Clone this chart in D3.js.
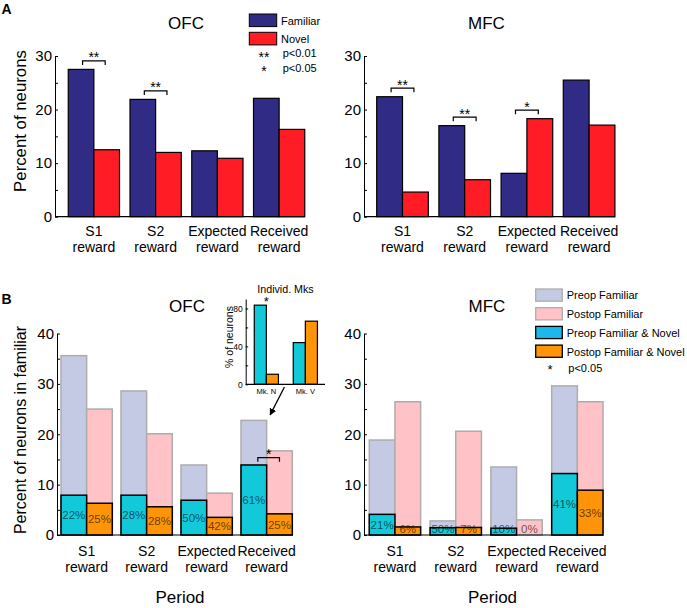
<!DOCTYPE html>
<html><head><meta charset="utf-8">
<script src="https://cdn.jsdelivr.net/npm/d3@7"></script>
<style>body{margin:0;background:#fff} svg{display:block} text{font-family:Arial,"Liberation Sans",Helvetica,sans-serif;fill:#000}</style>
</head><body><svg id="c" width="687" height="608"></svg>
<script>
// ---------- DATA ----------
const categories = ["S1|reward", "S2|reward", "Expected|reward", "Received|reward"];
// Panel A
const ofcFamiliar = [27.5, 21.9, 12.3, 22.1];
const ofcNovel    = [12.5, 12.0, 10.9, 16.3];
const mfcFamiliar = [22.4, 17.0, 8.1, 25.5];
const mfcNovel    = [4.6, 6.9, 18.3, 17.1];
const ofcSigA = ["**", "**", "", ""];
const mfcSigA = ["**", "**", "*", ""];
const yTicksA = [0, 10, 20, 30];
const yMinorA = [5, 15, 25];
// Panel B
const ofcPreopFam  = [35.6, 28.6, 13.9, 22.75];
const ofcPostopFam = [25.0, 20.1, 8.3, 16.7];
const ofcPreopFN   = [7.9, 7.9, 6.9, 13.9];
const ofcPostopFN  = [6.3, 5.6, 3.5, 4.2];
const ofcPreopPct  = ["22%", "28%", "50%", "61%"];
const ofcPostopPct = ["25%", "28%", "42%", "25%"];
const ofcSigB = ["", "", "", "*"];
const mfcPreopFam  = [18.85, 2.8, 13.5, 29.6];
const mfcPostopFam = [26.45, 20.6, 3.0, 26.45];
const mfcPreopFN   = [4.1, 1.45, 1.35, 12.2];
const mfcPostopFN  = [1.6, 1.5, 0, 8.9];
const mfcPreopPct  = ["21%", "50%", "10%", "41%"];
const mfcPostopPct = ["6%", "7%", "0%", "33%"];
const mfcSigB = ["", "", "", ""];
const yTicksB = [0, 10, 20, 30, 40];
const yMinorB = [5, 15, 25, 35];
// Inset (individual monkeys)
const insetMonkeys = ["Mk. N", "Mk. V"];
const insetPreop  = [83.5, 44];
const insetPostop = [10.6, 66.6];
const insetSig = ["*", ""];
const yTicksInset = [0, 40, 80];
const yMinorInset = [20, 60];

// ---------- STYLE ----------
const C = {
  fam: "#302c85", nov: "#ff1c24",
  preFam: "#c4cae4", postFam: "#ffc2c6",
  preFN: "#12c9da", postFN: "#ff9409",
  preFNlegend: "#1cb8ec", famStroke: "#adadad"
};
const svg = d3.select("#c");

function yAxis(g, y, ticks, minor, ax, fs, tlen) {
  const a = g.append("g").attr("transform", `translate(${ax},0)`)
    .call(d3.axisLeft(y).tickValues(ticks).tickSizeInner(-tlen).tickSizeOuter(0).tickPadding(3));
  a.selectAll("text").style("font-size", fs + "px").attr("fill", "#000");
  a.selectAll("path,line").attr("stroke", "#000").attr("stroke-width", 1);
  const m = g.append("g").attr("transform", `translate(${ax},0)`)
    .call(d3.axisLeft(y).tickValues(minor).tickSizeInner(-tlen).tickSizeOuter(0).tickFormat(""));
  m.select(".domain").remove();
  m.selectAll("line").attr("stroke", "#000");
}
function baseLine(g, x, y, ax) {
  const last = x.domain()[x.domain().length - 1];
  g.append("line").attr("x1", ax).attr("x2", x(last) + x.bandwidth())
    .attr("y1", y(0)).attr("y2", y(0)).attr("stroke", "#000").attr("stroke-width", 1.2);
}
function catLabels(g, x, y, dy1, fs) {
  const t = g.append("g").selectAll("text").data(categories).join("text")
    .attr("text-anchor", "middle").style("font-size", fs + "px")
    .attr("transform", d => `translate(${x(d) + x.bandwidth() / 2},${y(0) + dy1})`);
  t.append("tspan").attr("x", 0).attr("y", 0).text(d => d.split("|")[0]);
  t.append("tspan").attr("x", 0).attr("y", 16).text(d => d.split("|")[1]);
}
function bracket(g, x1, x2, yTop, label, fs) {
  g.append("path").attr("d", `M${x1},${yTop + 4}V${yTop}H${x2}V${yTop + 4}`)
    .attr("fill", "none").attr("stroke", "#000").attr("stroke-width", 1.2);
  g.append("text").attr("x", (x1 + x2) / 2).attr("y", yTop + 1.5)
    .attr("text-anchor", "middle").style("font-size", fs + "px").text(label);
}
function text(g, x, y, s, fs, anchor, extra) {
  const t = g.append("text").attr("x", x).attr("y", y).style("font-size", fs + "px")
    .attr("text-anchor", anchor || "start").text(s);
  if (extra) extra(t);
  return t;
}

// ---------- PANEL A ----------
function panelA(cfg) {
  const g = svg.append("g");
  const y = d3.scaleLinear().domain([0, 30]).range([216.7, 56]);
  const x = d3.scaleBand().domain(categories).range(cfg.range).paddingInner(0.17).paddingOuter(0.085);
  const xi = d3.scaleBand().domain(["fam", "nov"]).range([0, x.bandwidth()]);
  const rows = categories.map((c, i) => ({c, fam: cfg.fam[i], nov: cfg.nov[i], sig: cfg.sig[i]}));
  ["fam", "nov"].forEach(k => {
    g.append("g").selectAll("rect").data(rows).join("rect")
      .attr("x", d => x(d.c) + xi(k)).attr("width", xi.bandwidth())
      .attr("y", d => y(d[k])).attr("height", d => y(0) - y(d[k]))
      .attr("fill", C[k]).attr("stroke", "#000").attr("stroke-width", 1.2);
  });
  yAxis(g, y, yTicksA, yMinorA, cfg.ax, 15, 3);
  baseLine(g, x, y, cfg.ax);
  catLabels(g, x, y, 19.5, 14);
  rows.filter(d => d.sig).forEach(d => {
    const x1 = x(d.c) + xi("fam") + xi.bandwidth() / 2 + 1.5;
    const x2 = x(d.c) + xi("nov") + xi.bandwidth() / 2 - 1.5;
    bracket(g, x1, x2, y(Math.max(d.fam, d.nov)) - 8.5, d.sig, 14);
  });
  text(g, cfg.title[0], 29.3, cfg.title[1], 17, "middle");
  return g;
}
const gA1 = panelA({range: [63, 310], ax: 55, fam: ofcFamiliar, nov: ofcNovel, sig: ofcSigA, title: [186, "OFC"]});
panelA({range: [371.4, 620.2], ax: 364, fam: mfcFamiliar, nov: mfcNovel, sig: mfcSigA, title: [486.5, "MFC"]});
text(svg, 20, 121, "Percent of neurons", 16.8, "middle", t => t.attr("transform", "rotate(-90,20,121)").attr("dy", "0.35em"));
text(svg, 1.5, 13.5, "A", 14, "start", t => t.style("font-weight", "bold"));
// legend A
[["Familiar", C.fam], ["Novel", C.nov]].forEach((d, i) => {
  const yy = 14 + i * 18.3;
  svg.append("rect").attr("x", 249.3).attr("y", yy).attr("width", 27.4).attr("height", 12.6)
    .attr("fill", d[1]).attr("stroke", "#000").attr("stroke-width", 1);
  text(svg, 281, yy + 10.8, d[0], 11);
});
[["**", "p<0.01"], ["*", "p<0.05"]].forEach((d, i) => {
  const yy = 57 + i * 14.5;
  text(svg, 264, yy + 4.5, d[0], 14, "middle");
  text(svg, 282.7, yy, d[1], 11);
});

// ---------- PANEL B ----------
function panelB(cfg) {
  const g = svg.append("g");
  const y = d3.scaleLinear().domain([0, 40]).range([535, 333.5]);
  const x = d3.scaleBand().domain(categories).range(cfg.range).paddingInner(cfg.pad).paddingOuter(cfg.pad / 2);
  const xi = d3.scaleBand().domain(["pre", "post"]).range([0, x.bandwidth()]);
  const rows = categories.map((c, i) => ({c, preFam: cfg.preFam[i], postFam: cfg.postFam[i],
    preFN: cfg.preFN[i], postFN: cfg.postFN[i], prePct: cfg.prePct[i], postPct: cfg.postPct[i], sig: cfg.sig[i]}));
  [["pre", "preFam"], ["post", "postFam"]].forEach(([k, v]) => {
    g.append("g").selectAll("rect").data(rows).join("rect")
      .attr("x", d => x(d.c) + xi(k)).attr("width", xi.bandwidth())
      .attr("y", d => y(d[v])).attr("height", d => y(0) - y(d[v]))
      .attr("fill", C[v]).attr("stroke", C.famStroke).attr("stroke-width", 1.5);
  });
  [["pre", "preFN", "prePct"], ["post", "postFN", "postPct"]].forEach(([k, v, p]) => {
    g.append("g").selectAll("rect").data(rows.filter(d => d[v] > 0)).join("rect")
      .attr("x", d => x(d.c) + xi(k)).attr("width", xi.bandwidth())
      .attr("y", d => y(d[v])).attr("height", d => y(0) - y(d[v]))
      .attr("fill", C[v]).attr("stroke", "#000").attr("stroke-width", 1.5);
    g.append("g").selectAll("text").data(rows).join("text")
      .attr("x", d => x(d.c) + xi(k) + xi.bandwidth() / 2)
      .attr("y", d => Math.min((y(d[v]) + y(0)) / 2, y(0) - 6.5))
      .attr("dy", "0.36em").attr("text-anchor", "middle")
      .style("font-size", "11.5px").style("fill", "#000").style("fill-opacity", 0.62)
      .text(d => d[p]);
  });
  yAxis(g, y, yTicksB, yMinorB, cfg.ax, 15, 3);
  baseLine(g, x, y, cfg.ax);
  catLabels(g, x, y, 21, 14);
  rows.filter(d => d.sig).forEach(d => {
    const x1 = x(d.c) + xi("pre") + xi.bandwidth() / 2 + 4;
    const x2 = x(d.c) + xi("post") + xi.bandwidth() / 2;
    bracket(g, x1, x2, y(Math.max(d.preFN, d.postFN)) - 7.3, d.sig, 14);
  });
  text(g, cfg.title[0], 311.7, cfg.title[1], 17, "middle");
  text(g, cfg.period, 603, "Period", 17, "middle");
  return {g, x, y, xi};
}
const B1 = panelB({range: [56.65, 296.65], pad: 0.145, ax: 57, preFam: ofcPreopFam, postFam: ofcPostopFam,
  preFN: ofcPreopFN, postFN: ofcPostopFN, prePct: ofcPreopPct, postPct: ofcPostopPct, sig: ofcSigB,
  title: [187, "OFC"], period: 180});
panelB({range: [364.55, 607.75], pad: 0.156, ax: 364, preFam: mfcPreopFam, postFam: mfcPostopFam,
  preFN: mfcPreopFN, postFN: mfcPostopFN, prePct: mfcPreopPct, postPct: mfcPostopPct, sig: mfcSigB,
  title: [487, "MFC"], period: 492.5});
text(svg, 20, 430, "Percent of neurons in familiar", 16, "middle", t => t.attr("transform", "rotate(-90,20,430)").attr("dy", "0.35em"));
text(svg, 1.5, 303.5, "B", 14, "start", t => t.style("font-weight", "bold"));

// legend B
[["Preop Familiar", C.preFam, C.famStroke], ["Postop Familiar", C.postFam, C.famStroke],
 ["Preop Familiar & Novel", C.preFNlegend, "#000"], ["Postop Familiar & Novel", C.postFN, "#000"]].forEach((d, i) => {
  const yy = 289 + i * 18.7;
  svg.append("rect").attr("x", 535.7).attr("y", yy).attr("width", 26.6).attr("height", 12.2)
    .attr("fill", d[1]).attr("stroke", d[2]).attr("stroke-width", 1.3);
  text(svg, 566.7, yy + 10.4, d[0], 11);
});
text(svg, 550, 374, "*", 13, "middle");
text(svg, 568.3, 371.7, "p<0.05", 11);

// ---------- INSET ----------
(function () {
  const g = svg.append("g");
  const ax = 245.7;
  const y = d3.scaleLinear().domain([0, 90]).range([384.3, 299]);
  const x = d3.scaleBand().domain(insetMonkeys).range([ax, 326]).paddingInner(0.38).paddingOuter(0.22);
  const xi = d3.scaleBand().domain(["pre", "post"]).range([0, x.bandwidth()]);
  const rows = insetMonkeys.map((m, i) => ({m, pre: insetPreop[i], post: insetPostop[i], sig: insetSig[i]}));
  [["pre", C.preFN], ["post", C.postFN]].forEach(([k, col]) => {
    g.append("g").selectAll("rect").data(rows).join("rect")
      .attr("x", d => x(d.m) + xi(k)).attr("width", xi.bandwidth())
      .attr("y", d => y(d[k])).attr("height", d => y(0) - y(d[k]))
      .attr("fill", col).attr("stroke", "#000").attr("stroke-width", 1.2);
  });
  yAxis(g, y, yTicksInset, yMinorInset, ax, 8.5, 2.5);
  g.append("line").attr("x1", ax).attr("x2", 325).attr("y1", y(0)).attr("y2", y(0))
    .attr("stroke", "#000").attr("stroke-width", 1.2);
  g.append("g").selectAll("text").data(insetMonkeys).join("text")
    .attr("x", d => x(d) + x.bandwidth() / 2).attr("y", 393.5).attr("text-anchor", "middle")
    .style("font-size", "7.5px").text(d => d);
  rows.filter(d => d.sig).forEach(d => {
    text(g, x(d.m) + x.bandwidth() / 2, y(d.pre) + 1, d.sig, 13, "middle");
  });
  text(g, 285.5, 293, "Individ. Mks", 10.7, "middle");
  text(g, 229, 337, "% of neurons", 10.5, "middle", t => t.attr("transform", "rotate(-90,229,337)").attr("dy", "0.35em"));
  // arrow from inset to the Received preop bar
  const bx = B1.x("Received|reward") + B1.xi("pre") + B1.xi.bandwidth();
  const by = B1.y(ofcPreopFam[3]);
  const sx = x("Mk. N") + x.bandwidth() + 6, sy = 387;
  const tx = bx + 3.5, ty = by - 5.5;
  svg.append("defs").append("marker").attr("id", "ah").attr("viewBox", "0 0 10 10")
    .attr("refX", 9).attr("refY", 5).attr("markerWidth", 7).attr("markerHeight", 7)
    .attr("markerUnits", "userSpaceOnUse").attr("orient", "auto")
    .append("path").attr("d", "M0,0L10,5L0,10z").attr("fill", "#000");
  g.append("line").attr("x1", sx).attr("y1", sy).attr("x2", tx).attr("y2", ty)
    .attr("stroke", "#000").attr("stroke-width", 1.3).attr("marker-end", "url(#ah)");
})();
</script></body></html>
